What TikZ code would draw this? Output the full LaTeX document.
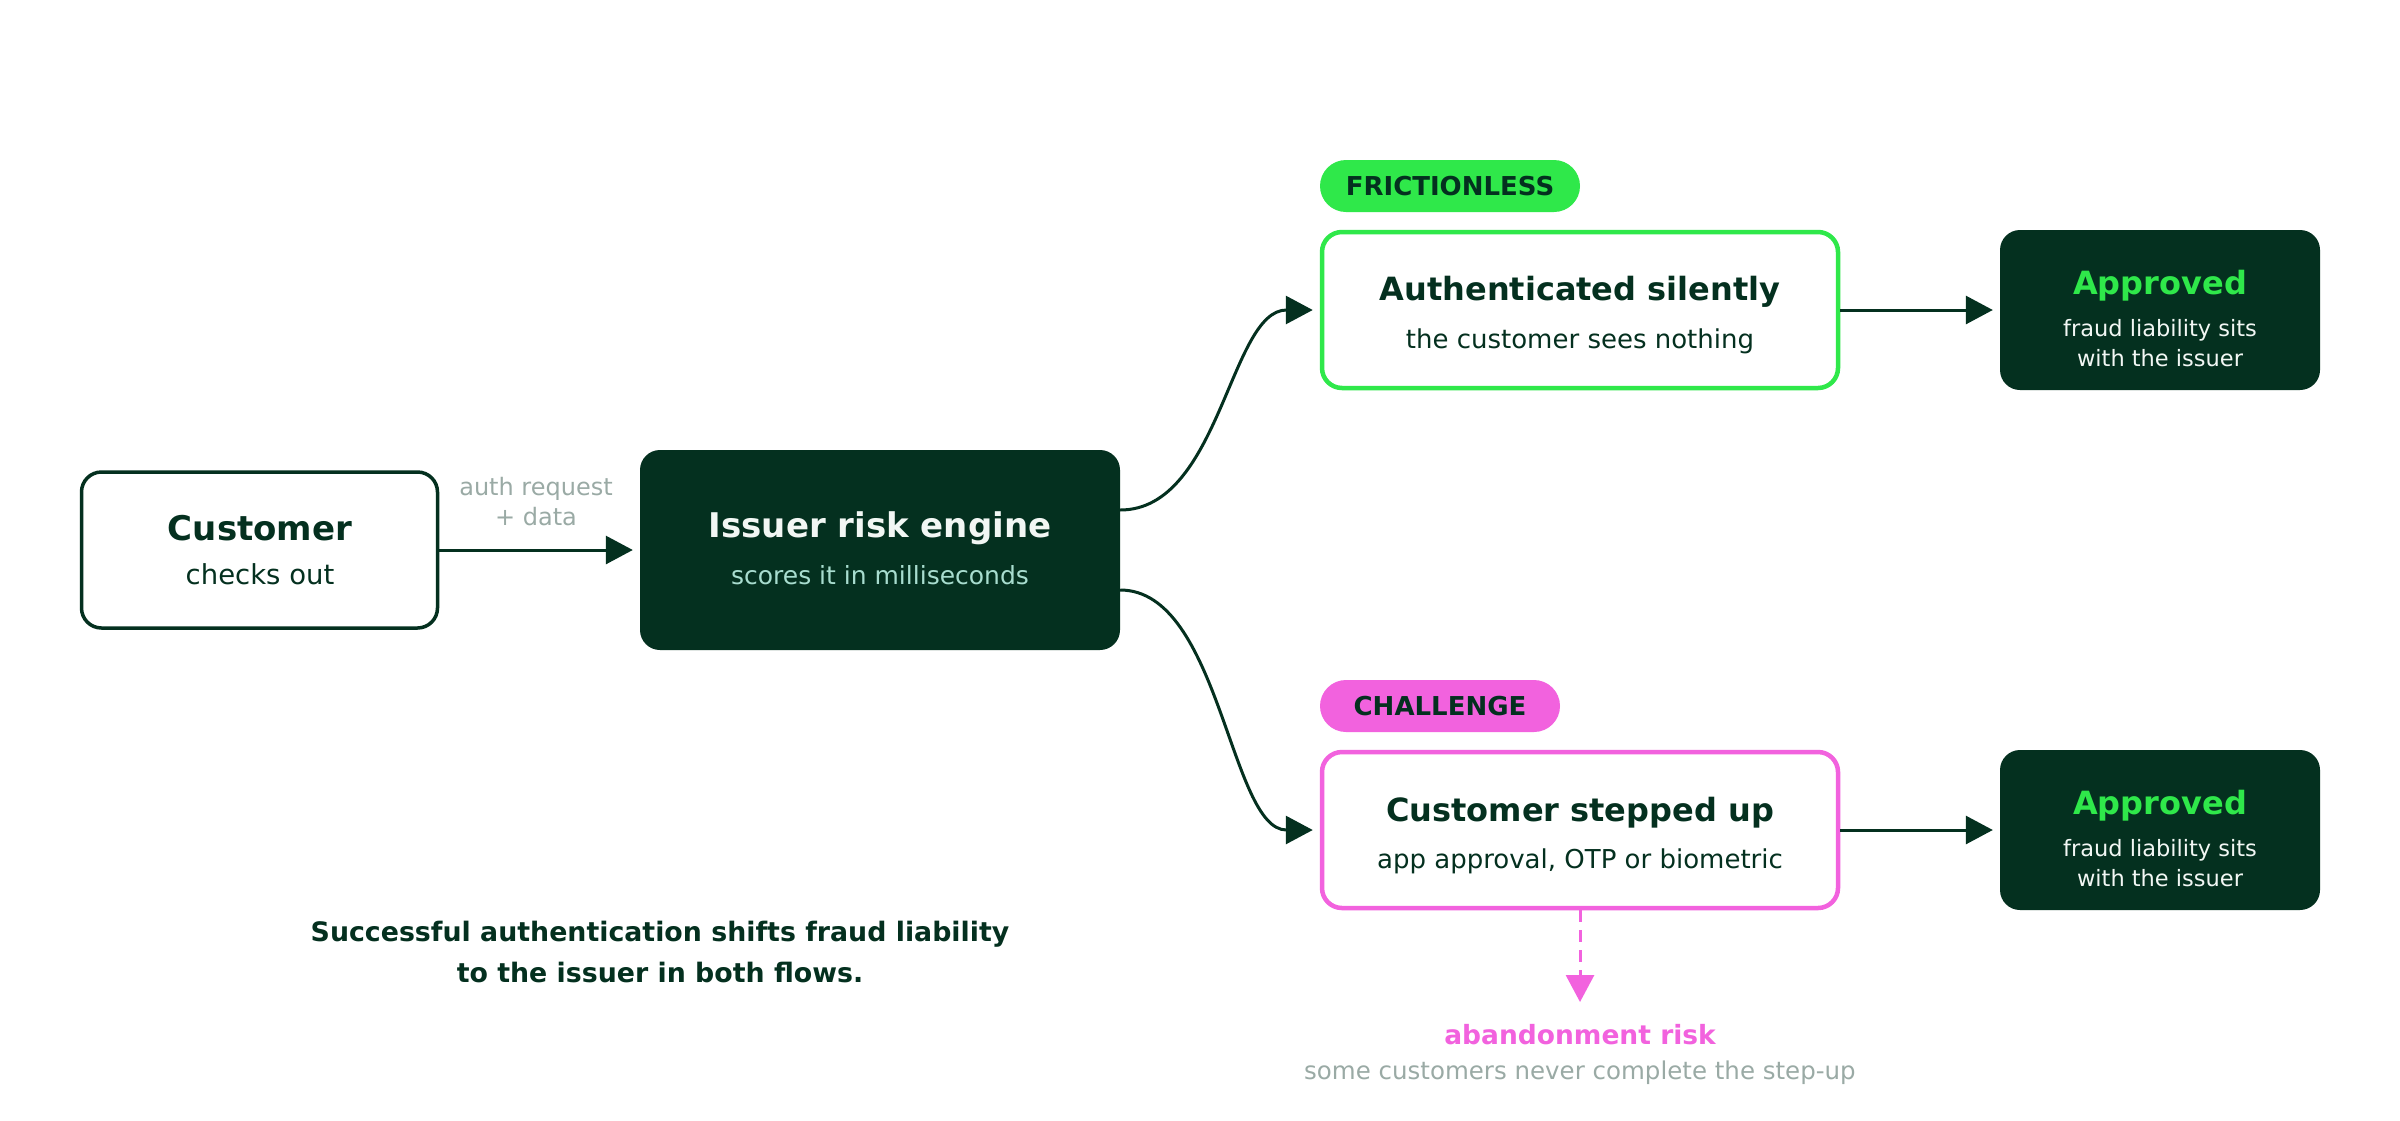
\documentclass[tikz,border=0pt]{standalone}
\usepackage{fontspec}
\setmainfont{DejaVu Sans}
\usetikzlibrary{arrows.meta,calc}
\definecolor{dk}{HTML}{04301F}
\definecolor{grn}{HTML}{2FE84A}
\definecolor{pnk}{HTML}{F262DE}
\definecolor{mint}{HTML}{A8DDCF}
\definecolor{gry}{HTML}{9AAAA5}
\definecolor{wht}{HTML}{F2F7F4}
\newcommand{\fs}[2]{\fontsize{#1}{#2}\selectfont}
\tikzset{
  outlinebox/.style={draw=dk, line width=3.5pt, fill=white, rounded corners=20pt, inner sep=0pt},
  darkbox/.style={fill=dk, rounded corners=20pt, inner sep=0pt},
  greenbox/.style={draw=grn, line width=4.5pt, fill=white, rounded corners=20pt, inner sep=0pt},
  pinkbox/.style={draw=pnk, line width=4.5pt, fill=white, rounded corners=20pt, inner sep=0pt},
  pill/.style={rounded corners=26pt, minimum height=52pt, inner sep=0pt, text=dk, font=\bfseries\fs{26}{30}},
  ttl/.style={font=\bfseries\fs{32}{40}, inner sep=0pt},
  sub/.style={font=\fs{26}{30}, inner sep=0pt},
  conn/.style={draw=dk, line width=3pt, -{Triangle[length=27pt,width=28pt]}, shorten >=7pt},
}
\begin{document}
\begin{tikzpicture}[x=1pt,y=-1pt]
\useasboundingbox[fill=white] (0,0) rectangle (2400,1120);

% boxes
\node[outlinebox, minimum width=356pt, minimum height=156pt] (cust) at (259.5,550) {};
\node[darkbox, minimum width=480pt, minimum height=200pt] (issuer) at (880,550) {};
\node[greenbox, minimum width=516pt, minimum height=156pt] (auth) at (1580,310) {};
\node[darkbox, minimum width=320pt, minimum height=160pt] (appr1) at (2160,310) {};
\node[pinkbox, minimum width=516pt, minimum height=156pt] (step) at (1580,830) {};
\node[darkbox, minimum width=320pt, minimum height=160pt] (appr2) at (2160,830) {};

% pills
\node[pill, fill=grn, minimum width=260pt] (pfr) at (1450,186) {FRICTIONLESS};
\node[pill, fill=pnk, minimum width=240pt] (pch) at (1440,706) {CHALLENGE};

% texts
\node[ttl, text=dk, font=\bfseries\fs{34}{40}] (custt) at (260,528) {Customer};
\node[sub, text=dk, font=\fs{27.5}{30}] (custs) at (260,574) {checks out};
\node[font=\fs{24}{30}, text=gry, align=center, inner sep=0pt] (lbl) at (536,502) {auth request\\+ data};

\node[ttl, text=wht, font=\bfseries\fs{34}{40}] (isst) at (880,528) {Issuer risk engine};
\node[sub, text=mint, font=\fs{25}{30}] (isss) at (880,575) {scores it in milliseconds};

\node[ttl, text=dk] (autht) at (1580,292) {Authenticated silently};
\node[sub, text=dk] (auths) at (1580,341) {the customer sees nothing};

\node[ttl, text=grn] (a1t) at (2160,286) {Approved};
\node[font=\fs{22.5}{30}, text=wht, align=center, inner sep=0pt] (a1s) at (2160,343) {fraud liability sits\\with the issuer};

\node[ttl, text=dk] (stept) at (1580,813) {Customer stepped up};
\node[sub, text=dk] (steps) at (1580,861) {app approval, OTP or biometric};

\node[ttl, text=grn] (a2t) at (2160,806) {Approved};
\node[font=\fs{22.5}{30}, text=wht, align=center, inner sep=0pt] (a2s) at (2160,863) {fraud liability sits\\with the issuer};

\node[font=\bfseries\fs{26.5}{30}, text=pnk, inner sep=0pt] (abt) at (1580,1035) {abandonment risk};
\node[font=\fs{24.5}{30}, text=gry, inner sep=0pt] (abs) at (1580,1073) {some customers never complete the step-up};

\node[font=\bfseries\fs{26.8}{41}, text=dk, align=center, inner sep=0pt] (foot) at (660,951.5) {Successful authentication shifts fraud liability\\to the issuer in both flows.};

% connectors
\draw[conn] (cust.east) -- (issuer.west);
\draw[conn] ([yshift=40pt]issuer.east) .. controls +(100,0) and +(-90,0) .. (auth.west);
\draw[conn] ([yshift=-40pt]issuer.east) .. controls +(100,0) and +(-90,0) .. (step.west);
\draw[conn] (auth.east) -- (appr1.west);
\draw[conn] (step.east) -- (appr2.west);
\coordinate (abtip) at (1580,1002);
\draw[draw=pnk, line width=3pt, dash pattern=on 12pt off 8pt, -{Triangle[length=27pt,width=28pt]}] (step.south) -- (abtip);
\end{tikzpicture}
\end{document}
